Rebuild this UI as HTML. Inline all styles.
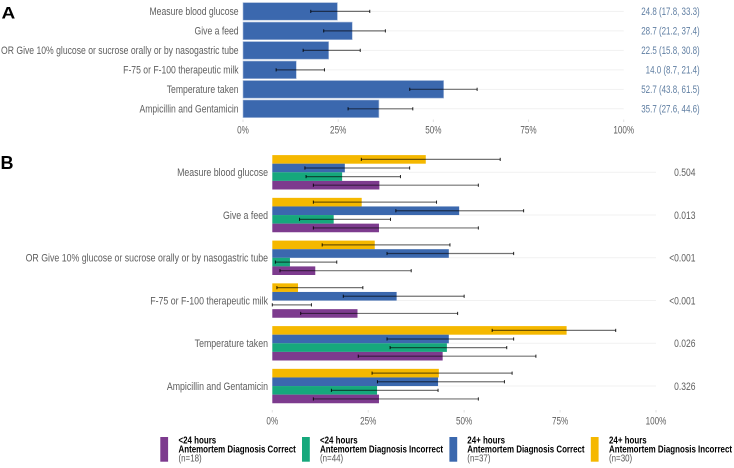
<!DOCTYPE html>
<html>
<head>
<meta charset="utf-8">
<title>Chart</title>
<style>
html,body{margin:0;padding:0;background:#fff;}
body{width:734px;height:468px;overflow:hidden;}
svg{display:block;}
text{font-family:"Liberation Sans",sans-serif;}
</style>
</head>
<body>
<svg id="chart" width="734" height="468" viewBox="0 0 734 468" xmlns="http://www.w3.org/2000/svg">
  <defs>
    <filter id="soft" x="-5%" y="-5%" width="110%" height="110%"><feGaussianBlur stdDeviation="0.35"/></filter>
  </defs>
  <g id="root" filter="url(#soft)">
    <text transform="translate(1.5,18.3) scale(1.12,1)" font-size="17" font-weight="bold" fill="#000">A</text>
    <text x="0.5" y="169" font-size="18" font-weight="bold" fill="#000">B</text>
    <g id="panelA"></g>
    <g id="panelB"></g>
    <g font-size="10" fill="#000">
      <g>
        <rect x="160.3" y="437" width="7.8" height="24.7" fill="#7d3a8e"/>
        <text transform="translate(178.5,443.6) scale(0.795,1)" font-weight="bold">&lt;24 hours</text>
        <text transform="translate(178.5,452.6) scale(0.795,1)" font-weight="bold">Antemortem Diagnosis Correct</text>
        <text transform="translate(178.5,461.6) scale(0.795,1)" fill="#555">(n=18)</text>
      </g>
      <g>
        <rect x="302" y="437" width="7.8" height="24.7" fill="#17a87c"/>
        <text transform="translate(320,443.6) scale(0.795,1)" font-weight="bold">&lt;24 hours</text>
        <text transform="translate(320,452.6) scale(0.795,1)" font-weight="bold">Antemortem Diagnosis Incorrect</text>
        <text transform="translate(320,461.6) scale(0.795,1)" fill="#555">(n=44)</text>
      </g>
      <g>
        <rect x="449.4" y="437" width="7.8" height="24.7" fill="#3a67ae"/>
        <text transform="translate(467.3,443.6) scale(0.795,1)" font-weight="bold">24+ hours</text>
        <text transform="translate(467.3,452.6) scale(0.795,1)" font-weight="bold">Antemortem Diagnosis Correct</text>
        <text transform="translate(467.3,461.6) scale(0.795,1)" fill="#555">(n=37)</text>
      </g>
      <g>
        <rect x="590.8" y="437" width="7.8" height="24.7" fill="#f5b800"/>
        <text transform="translate(609,443.6) scale(0.795,1)" font-weight="bold">24+ hours</text>
        <text transform="translate(609,452.6) scale(0.795,1)" font-weight="bold">Antemortem Diagnosis Incorrect</text>
        <text transform="translate(609,461.6) scale(0.795,1)" fill="#555">(n=30)</text>
      </g>
    </g>
  </g>
</svg>
<script>
var categories = ["Measure blood glucose","Give a feed","OR Give 10% glucose or sucrose orally or by nasogastric tube","F-75 or F-100 therapeutic milk","Temperature taken","Ampicillin and Gentamicin"];
var xTicks = [0,25,50,75,100];

var overallValue = [24.8,28.7,22.5,14.0,52.7,35.7];
var overallLow = [17.8,21.2,15.8,8.7,43.8,27.6];
var overallHigh = [33.3,37.4,30.8,21.4,61.5,44.6];

var pValues = ["0.504","0.013","<0.001","<0.001","0.026","0.326"];

var over24IncorrectValue = [40.0,23.3,26.7,6.7,76.7,43.4];
var over24IncorrectLow = [23.2,10.7,13.0,1.2,57.3,26.0];
var over24IncorrectHigh = [59.4,42.8,46.3,23.6,89.5,62.5];

var over24CorrectValue = [18.9,48.7,46.0,32.4,46.0,43.2];
var over24CorrectLow = [8.5,32.2,29.9,18.5,29.9,27.4];
var over24CorrectHigh = [35.8,65.5,62.9,50.0,62.9,60.5];

var under24IncorrectValue = [18.2,16.0,4.6,0,45.5,27.3];
var under24IncorrectLow = [8.8,7.1,0.8,0,30.7,15.4];
var under24IncorrectHigh = [33.4,30.8,16.8,10.2,61.1,43.2];

var under24CorrectValue = [27.9,27.8,11.2,22.2,44.4,27.8];
var under24CorrectLow = [10.7,10.7,2.0,7.4,22.4,10.7];
var under24CorrectHigh = [53.7,53.7,36.2,48.3,68.7,53.7];

var NS = "http://www.w3.org/2000/svg";

function xA(v){ return 243 + v * 3.807; }
function yA(i){ return 11.4 + i * 19.48; }
function xB(v){ return 272.3 + v * 3.837; }
function yB(i){ return 172.3 + i * 42.75; }

function mk(parent, tag, attrs){
  var el = document.createElementNS(NS, tag);
  for (var k in attrs) el.setAttribute(k, attrs[k]);
  parent.appendChild(el);
  return el;
}
function label(parent, x, y, str, anchor, fill, sx){
  var t = mk(parent, "text", {
    transform: "translate(" + x + "," + y + ") scale(" + sx + ",1)",
    "text-anchor": anchor, fill: fill, "font-size": 11
  });
  t.textContent = str;
  return t;
}
function whisker(parent, x1, x2, y){
  var g = mk(parent, "g", {stroke: "#000", "stroke-opacity": "0.55", "stroke-width": "1.2", fill: "none"});
  mk(g, "line", {x1: x1, x2: x2, y1: y, y2: y});
  mk(g, "line", {x1: x1, x2: x1, y1: y - 1.6, y2: y + 1.6, "stroke-opacity": "0.85", "stroke-width": "1"});
  mk(g, "line", {x1: x2, x2: x2, y1: y - 1.6, y2: y + 1.6, "stroke-opacity": "0.85", "stroke-width": "1"});
  return g;
}

var panelA = document.getElementById("panelA");
var panelB = document.getElementById("panelB");

categories.forEach(function(c, i){
  var y = yA(i);
  var grid = mk(panelA, "line", {x1: xA(0), x2: xA(100), y1: y, y2: y, stroke: "#f1f1f1", "stroke-width": "1"});
  
  
  var lab = label(panelA, 238.6, y + 3.8, c, "end", "#5e5e5e", 0.784);
  
  
  var bar = mk(panelA, "rect", {x: xA(0), y: y - 8.8, width: xA(overallValue[i]) - xA(0), height: 17.6, fill: "#3a67ae", stroke: "#a9bddb", "stroke-width": "0.6"});
  
  
  var w = whisker(panelA, xA(overallLow[i]), xA(overallHigh[i]), y);
  
  
  var txt = overallValue[i].toFixed(1) + " (" + overallLow[i].toFixed(1) + ", " + overallHigh[i].toFixed(1) + ")";
  var ci = label(panelA, 699.7, y + 3.8, txt, "end", "#5f7ea2", 0.725);
  
  
});

xTicks.forEach(function(v){
  var tick = mk(panelA, "line", {x1: xA(v), x2: xA(v), y1: 119.5, y2: 122, stroke: "#e2e2e2", "stroke-width": "1"});
  
  
  var t = label(panelA, xA(v), 133.4, v + "%", "middle", "#5e5e5e", 0.74);
  
  
});

var seriesFill = ["#f5b800","#3a67ae","#17a87c","#7d3a8e"];
var seriesName = ["over24-incorrect","over24-correct","under24-incorrect","under24-correct"];
var seriesValue = [over24IncorrectValue, over24CorrectValue, under24IncorrectValue, under24CorrectValue];
var seriesLow = [over24IncorrectLow, over24CorrectLow, under24IncorrectLow, under24CorrectLow];
var seriesHigh = [over24IncorrectHigh, over24CorrectHigh, under24IncorrectHigh, under24CorrectHigh];

categories.forEach(function(c, i){
  var y = yB(i);
  var grid = mk(panelB, "line", {x1: xB(0), x2: xB(100), y1: y, y2: y, stroke: "#f1f1f1", "stroke-width": "1"});
  
  
  var lab = label(panelB, 268, y + 3.8, c, "end", "#5e5e5e", 0.8);
  
  
  var p = label(panelB, 695.5, y + 3.8, pValues[i], "end", "#5e5e5e", 0.775);
  
  
});

categories.forEach(function(c, i){
  seriesName.forEach(function(name, s){
    var top = yB(i) - 17.2 + s * 8.6;
    var val = seriesValue[s][i];
    if (val > 0) {
      var bar = mk(panelB, "rect", {x: xB(0), y: top, width: xB(val) - xB(0), height: 8.6, fill: seriesFill[s]});
      
      
    }
  });
  seriesName.forEach(function(name, s){
    var cy = yB(i) - 12.9 + s * 8.6;
    var w = whisker(panelB, xB(seriesLow[s][i]), xB(seriesHigh[s][i]), cy);
    
    
  });
});

xTicks.forEach(function(v){
  var tick = mk(panelB, "line", {x1: xB(v), x2: xB(v), y1: 410, y2: 412.5, stroke: "#e2e2e2", "stroke-width": "1"});
  
  
  var t = label(panelB, xB(v), 424.6, v + "%", "middle", "#5e5e5e", 0.74);
  
  
});
</script>
</body>
</html>
